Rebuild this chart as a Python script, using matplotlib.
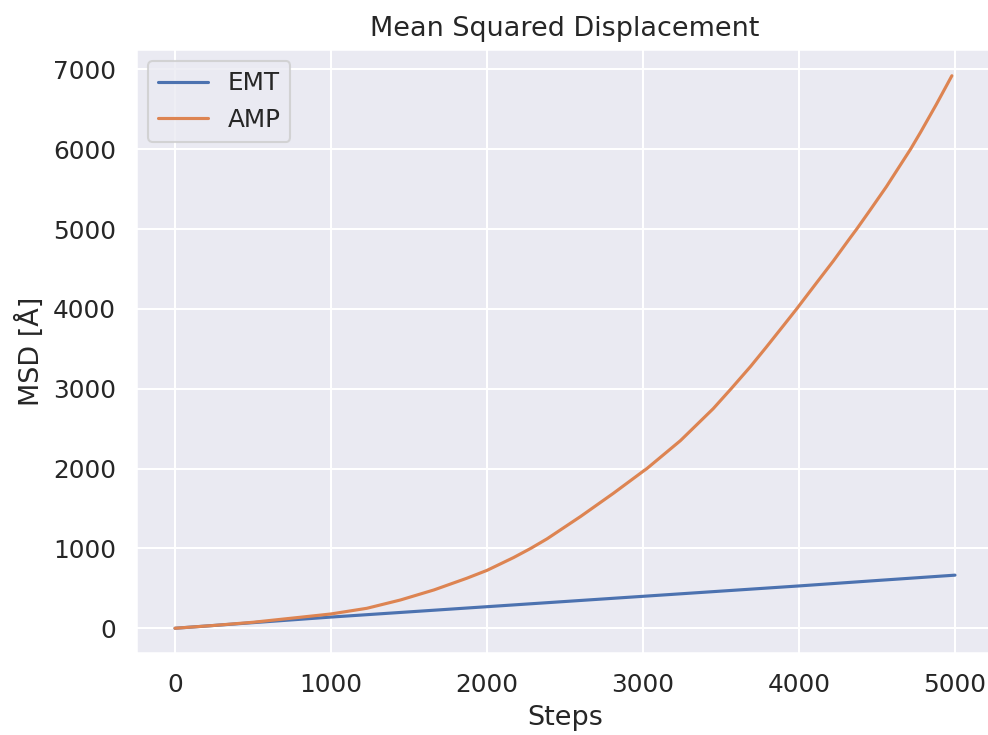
import matplotlib
matplotlib.use("Agg")
import matplotlib.pyplot as plt
import seaborn as sns

# values
steps_emt = [0, 500, 1000, 1500, 2000, 2500, 3000, 3500, 4000, 4500, 5000]
msd_emt = [0, 70, 140, 205, 270, 335, 400, 465, 530, 598, 665]

steps_amp = [0, 250, 500, 805, 1000, 1230, 1445, 1660, 1870, 2000, 2170,
             2280, 2385, 2600, 2810, 3000, 3025, 3240, 3450, 3565, 3690,
             3790, 3900, 3985, 4110, 4220, 4330, 4370, 4455, 4560, 4715,
             4780, 4880, 4980]
msd_amp = [0, 35, 75, 138, 179, 250, 354, 480, 626, 725, 885,
           1000, 1120, 1400, 1690, 1965, 2000, 2350, 2750, 3000, 3280,
           3520, 3790, 4000, 4320, 4600, 4895, 5000, 5235, 5530, 6000,
           6215, 6560, 6920]

sns.set_theme(font_scale=1.08)

fig = plt.figure(figsize=(988 / 150, 735 / 150), dpi=150)
ax = fig.add_axes([136 / 988, (735 - 653) / 735, (994 - 136) / 988, (653 - 49) / 735])

ax.plot(steps_emt, msd_emt, label="EMT")
ax.plot(steps_amp, msd_amp, label="AMP")
ax.set_xlim(-250, 5250)
ax.set_ylim(-310, 7255)
ax.set_xlabel("Steps")
ax.set_ylabel("MSD [Å]")
ax.set_title("Mean Squared Displacement")
ax.legend(loc="upper left")

fig.savefig("out.png", dpi=150)
